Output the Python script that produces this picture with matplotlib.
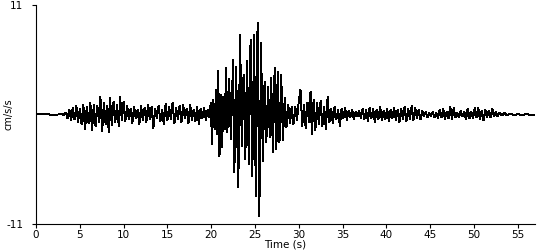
import matplotlib
matplotlib.use("Agg")
import matplotlib.pyplot as plt
import numpy as np

plt.rcParams["axes.unicode_minus"] = False

# extrema of the trace (time s, acceleration cm/s/s)
t_pre = [0.0, 1.0, 2.0, 3.0, 3.2, 3.4]
a_pre = [0.0, 0.05, -0.05, 0.05, -0.1, 0.2]

t_p = [3.6, 3.8, 4.0, 4.2, 4.4, 4.6, 4.8, 5.0, 5.2, 5.4, 5.6, 5.8, 6.0, 6.2,
       6.4, 6.6, 6.8, 7.0, 7.2, 7.35, 7.55, 7.75, 7.95, 8.15, 8.3, 8.45, 8.65,
       8.85, 9.05, 9.25, 9.45, 9.6, 9.8, 10.0]
a_p = [-0.4, 0.5, -0.6, 0.7, -0.5, 0.9, -0.8, 0.6, -1.0, 1.0, -1.5, 0.8, -0.9,
       1.2, -1.6, 1.0, -1.2, 0.9, -0.8, 1.8, -1.7, 1.2, -1.0, 0.9, -1.8, 1.7,
       -1.1, 1.3, -0.8, 1.0, -1.2, 1.8, -0.6, 1.3]

t_coda1 = [10.2, 10.4, 10.6, 10.8, 11.0, 11.2, 11.4, 11.6, 11.8, 12.0, 12.2,
           12.4, 12.6, 12.8, 13.0, 13.2, 13.4, 13.6, 13.8, 14.0, 14.2, 14.4,
           14.6, 14.8, 15.0, 15.2, 15.4, 15.6, 15.8, 16.0, 16.2, 16.4, 16.6,
           16.8, 17.0, 17.2, 17.4, 17.6, 17.8, 18.0, 18.2, 18.4, 18.6, 18.8,
           19.0, 19.2, 19.4, 19.6, 19.8, 19.95]
a_coda1 = [-0.7, 0.9, -0.5, 0.6, -0.9, 0.8, -0.4, 0.5, -1.0, 0.9, -0.6, 0.7,
           -0.8, 1.0, -0.5, 0.8, -1.4, 0.6, -0.4, 0.9, -0.7, 0.5, -1.0, 1.1,
           -0.6, 0.8, -0.5, 1.2, -0.9, 0.7, -0.5, 0.9, -0.8, 1.0, -0.4, 0.6,
           -0.9, 1.0, -0.6, 0.5, -0.7, 0.8, -1.0, 0.6, -0.4, 0.7, -0.6, 0.5,
           -0.3, 1.2]

t_s = [20.1, 20.25, 20.4, 20.55, 20.7, 20.8, 20.95, 21.1, 21.25, 21.4, 21.55,
       21.7, 21.85, 22.05, 22.25, 22.5, 22.65, 22.85, 23.0, 23.1, 23.3, 23.5,
       23.7, 23.9, 24.1, 24.3, 24.5, 24.7, 24.9, 25.1, 25.3, 25.5, 25.7, 25.9,
       26.1, 26.3, 26.5, 26.7, 26.85, 27.05, 27.25, 27.45, 27.6, 27.8, 28.0,
       28.2, 28.4, 28.6, 28.8, 29.0, 29.2, 29.4, 29.6, 29.8, 30.0]
a_s = [-3.0, 1.5, -1.5, 2.5, -2.0, 4.4, -4.2, 2.0, -3.3, 1.8, -1.5, 4.7, -1.8,
       3.6, -2.5, 5.5, -5.8, 4.8, -3.0, -7.3, 8.0, -3.2, 4.0, -4.5, 5.4, -5.0,
       7.5, -6.2, 8.0, -8.2, 9.2, -10.2, 7.2, -4.7, 3.3, -2.8, 2.8, -2.3, 3.7,
       -3.8, 4.7, -3.5, 4.3, -2.8, 4.0, -2.6, 1.7, -1.3, 1.0, -0.9, 0.8, -1.0,
       0.8, -0.6, 1.3]

t_coda2 = [30.2, 30.4, 30.6, 30.8, 31.0, 31.2, 31.35, 31.5, 31.7, 31.9, 32.1,
           32.3, 32.5, 32.7, 32.9, 33.1, 33.3, 33.5, 33.7, 33.9, 34.1, 34.3,
           34.5, 34.7, 34.9, 35.1, 35.3, 35.5, 35.7, 35.9, 36.1, 36.3, 36.5,
           36.7, 36.9, 37.1, 37.3, 37.5, 37.7, 37.9, 38.1, 38.3, 38.5, 38.7,
           38.9, 39.1, 39.3, 39.5, 39.7, 39.9]
a_coda2 = [2.5, -1.2, 1.0, -1.4, 1.2, -0.8, 2.3, -2.0, 1.5, -1.6, 1.2, -1.0,
           1.4, -1.2, 0.8, -1.5, 1.8, -0.8, 0.6, -0.9, 0.8, -0.5, 0.5, -1.2,
           0.6, -0.4, 0.7, -0.6, 0.4, -0.3, 0.5, -0.5, 0.3, -0.2, 0.4, -0.4,
           0.6, -0.5, 0.5, -0.7, 0.7, -0.4, 0.6, -0.8, 0.5, -0.5, 0.8, -0.6,
           0.4, -0.5]

t_tail = [40.1, 40.3, 40.5, 40.7, 40.9, 41.1, 41.3, 41.5, 41.7, 41.9, 42.1,
          42.3, 42.5, 42.7, 42.9, 43.1, 43.3, 43.5, 43.7, 43.9, 44.1, 44.3,
          44.5, 44.7, 44.9, 45.1, 45.3, 45.5, 45.7, 45.9, 46.1, 46.3, 46.5,
          46.7, 46.9, 47.1, 47.3, 47.5, 47.7, 47.9, 48.1, 48.3, 48.5, 48.7,
          48.9, 49.1, 49.3, 49.5, 49.7, 49.9, 50.1, 50.3, 50.5, 50.7, 50.9,
          51.1, 51.3, 51.5, 51.7, 51.9, 52.1, 52.3, 52.5, 52.7, 52.9, 53.2,
          53.5, 53.8, 54.2, 54.6, 55.0, 55.5, 56.0, 56.5, 57.0]
a_tail = [0.6, -0.7, 0.5, -0.4, 0.7, -0.6, 0.5, -0.8, 0.6, -0.5, 0.8, -0.7,
          0.6, -0.5, 0.9, -0.6, 0.7, -0.4, 0.5, -0.5, 0.4, -0.2, 0.3, -0.3,
          0.2, -0.2, 0.3, -0.3, 0.2, -0.4, 0.5, -0.3, 0.6, -0.5, 0.3, -0.4,
          0.8, -0.5, 0.7, -0.3, 0.2, -0.3, 0.4, -0.2, 0.3, -0.5, 0.6, -0.4,
          0.3, -0.4, 0.7, -0.3, 0.7, -0.5, 0.4, -0.6, 0.5, -0.3, 0.4, -0.3,
          0.6, -0.2, 0.3, -0.2, 0.2, -0.1, 0.15, -0.1, 0.1, -0.1, 0.05, -0.05,
          0.05, -0.05, 0.0]

x_ticks = [0, 5, 10, 15, 20, 25, 30, 35, 40, 45, 50, 55]
y_ticks = [-11, 11]

t = np.array(t_pre + t_p + t_coda1 + t_s + t_coda2 + t_tail)
acc = np.array(a_pre + a_p + a_coda1 + a_s + a_coda2 + a_tail)

fig = plt.figure(figsize=(5.5, 2.5), dpi=100)
ax = fig.add_axes([0.0655, 0.104, 0.9075, 0.876])
ax.plot(t, acc, color="black", lw=0.7, antialiased=False)

ax.set_xlim(0, 57)
ax.set_ylim(-11, 11)
ax.set_xticks(x_ticks)
ax.set_yticks(y_ticks)
ax.spines["top"].set_visible(False)
ax.spines["right"].set_visible(False)
ax.tick_params(labelsize=7.5, length=3, width=0.8, pad=1)
ax.tick_params(axis="y", pad=6)
ax.set_xlabel("Time (s)", fontsize=7.5, labelpad=0)
ax.set_ylabel("cm/s/s", fontsize=7, labelpad=2)
ax.yaxis.set_label_coords(-0.045, 0.5)

fig.savefig("out.png", dpi=100)
